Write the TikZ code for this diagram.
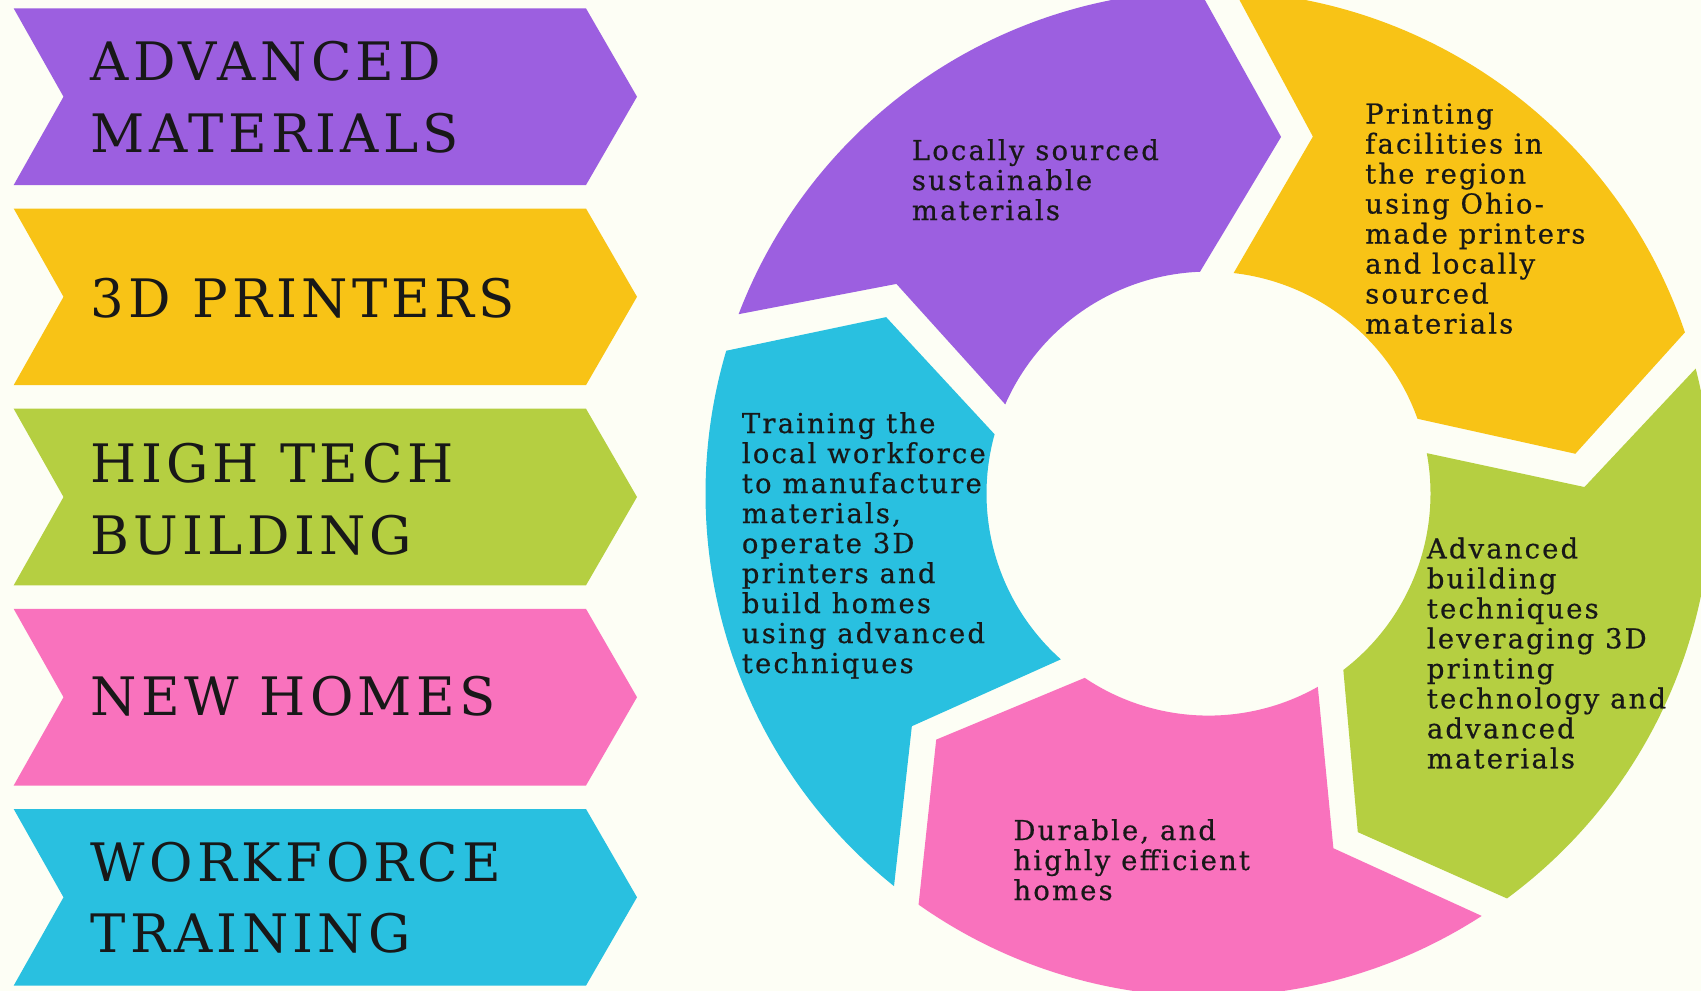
\documentclass[tikz,border=0pt]{standalone}
\usepackage{fontspec}
\setmainfont{DejaVu Serif}
\newfontfamily\capsfont[LetterSpace=8]{DejaVu Serif}
\newfontfamily\bodyfont[LetterSpace=8,FakeBold=0.6]{DejaVu Serif}
\definecolor{bg}{HTML}{FDFEF5}
\definecolor{cpurple}{HTML}{9C5FE0}
\definecolor{cyellow}{HTML}{F8C316}
\definecolor{cgreen}{HTML}{B5CF41}
\definecolor{cpink}{HTML}{F972BD}
\definecolor{ccyan}{HTML}{29C0E0}
\definecolor{ink}{HTML}{181818}
\newcommand\Rout{503}
\newcommand\Rin{222}
\newcommand\bandshape[2]{%
  \fill[#1] (13.7,#2) -- (586,#2) -- (637,#2+88.3) -- (586,#2+176.6)
    -- (13.7,#2+176.6) -- (63.5,#2+88.3) -- cycle;}
\newcommand\ringseg[9]{%
  \fill[#1] (#2:\Rout) arc[start angle=#2, end angle=#3, radius=\Rout]
    -- (#4:#5) -- (#6:\Rin) arc[start angle=#6, end angle=#7, radius=\Rin]
    -- (#8:#9) -- cycle;}
\tikzset{
  capstext/.style={anchor=base west, inner sep=0pt, align=left, text=ink,
    font=\capsfont\fontsize{53}{71.5}\selectfont},
  bodytext/.style={anchor=base west, inner sep=0pt, align=left, text=ink,
    font=\bodyfont\fontsize{27.4}{30}\selectfont}
}
\begin{document}
\begin{tikzpicture}[x=1pt,y=-1pt]
\useasboundingbox (0,0) rectangle (1701,991);
\fill[bg] (0,0) rectangle (1701,991);
\clip (0,0) rectangle (1701,991);
% left bands
\bandshape{cpurple}{8.4}
\bandshape{cyellow}{208.5}
\bandshape{cgreen}{408.7}
\bandshape{cpink}{608.9}
\bandshape{ccyan}{809}
% anchors are the baselines of the last lines
\node[capstext] (t1) at (90.5,152) {ADVANCED\\MATERIALS};
\node[capstext] (t2) at (90.5,317) {3D PRINTERS};
\node[capstext] (t3) at (90.5,554) {HIGH TECH\\BUILDING};
\node[capstext] (t4) at (90.5,715.7) {NEW HOMES};
\node[capstext] (t5) at (90.5,952.5) {WORKFORCE\\TRAINING};
% ring
\begin{scope}[shift={(1208.5,493.6)}, y=1pt]
\ringseg{cpurple}{159.1}{91}{78.5}{364}{92.2}{156.3}{146.1}{376}
\ringseg{cyellow}{87}{18.7}{6.2}{369}{19.7}{83.5}{73.7}{372}
\ringseg{cgreen}{14.4}{-53.6}{-66.2}{370}{-52.6}{10.5}{1.0}{376}
\ringseg{cpink}{-57.1}{-125.2}{-137.9}{367}{-123.9}{-60.5}{-70.6}{376}
\ringseg{ccyan}{-128.7}{-196.5}{-208.7}{367.5}{-195.5}{-131.7}{-141.9}{377}
\end{scope}
\node[bodytext] (d1) at (911.7,220) {Locally sourced\\sustainable\\materials};
\node[bodytext] (d2) at (1365,333.5) {Printing\\facilities in\\the region\\using Ohio-\\made printers\\and locally\\sourced\\materials};
\node[bodytext] (d3) at (1426.7,768.3) {Advanced\\building\\techniques\\leveraging 3D\\printing\\technology and\\advanced\\materials};
\node[bodytext] (d4) at (1013.3,900) {Durable, and\\highly efficient\\homes};
\node[bodytext] (d5) at (741.7,673) {Training the\\local workforce\\to manufacture\\materials,\\operate 3D\\printers and\\build homes\\using advanced\\techniques};
\end{tikzpicture}
\end{document}
